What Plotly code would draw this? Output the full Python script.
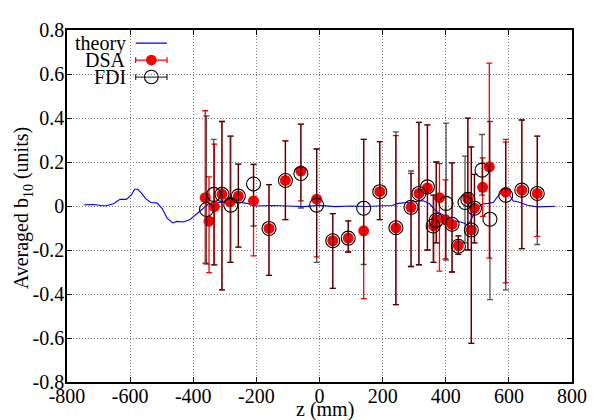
import plotly.graph_objects as go

# ---------------- data ----------------
z_theory = [-746, -715, -679, -653, -632, -612, -596, -586, -576, -565, -550, -534, -514, -498,
            -483, -465, -452, -431, -410, -390, -369, -353, -333, -302, -260, -229, -209, -150,
            -100, -50, 0, 50, 100, 150, 200, 230, 250, 277, 308, 329, 349, 370, 391, 416, 437,
            453, 468, 478, 494, 515, 535, 551, 566, 582, 597, 613, 633, 659, 690, 721, 747]
b_theory = [0.006, 0.007, 0.0, 0.01, 0.03, 0.03, 0.05, 0.076, 0.076, 0.06, 0.032, 0.016, 0.013,
            -0.013, -0.055, -0.077, -0.07, -0.073, -0.061, -0.036, -0.014, 0.008, 0.018, 0.015,
            0.018, 0.012, 0.0, 0.002, 0.0, -0.003, 0.003, -0.003, 0.0, -0.002, 0.001, 0.002,
            0.012, 0.016, 0.022, 0.024, 0.01, -0.025, -0.04, -0.069, -0.07, -0.075, -0.085,
            -0.07, -0.02, 0.009, 0.012, 0.017, 0.046, 0.068, 0.063, 0.024, 0.017, 0.003,
            -0.004, -0.004, -0.001]

z_dsa = [-362, -350, -333, -309, -283, -257, -209, -160, -108, -59, -9, 42, 91, 140, 191, 242,
         290, 315, 342, 362, 370, 380, 399, 420, 440, 470, 481, 491, 517, 538, 590, 641, 690]
b_dsa = [0.038, -0.069, -0.003, 0.053, 0.019, 0.045, 0.023, -0.102, 0.116, 0.159, 0.031, -0.158,
         -0.146, -0.113, 0.065, -0.099, -0.006, 0.057, 0.082, -0.09, -0.062, 0.038, -0.062,
         -0.084, -0.18, 0.034, -0.109, -0.01, 0.085, 0.178, 0.063, 0.072, 0.057]
dsa_hi = [0.433, 0.132, 0.281, 0.384, 0.318, 0.19, 0.19, 0.097, 0.296, 0.372, 0.259, -0.035,
          -0.068, 0.303, 0.293, 0.32, 0.148, 0.38, 0.369, 0.049, 0.2, 0.193, 0.119, 0.196,
          -0.136, 0.399, 0.269, 0.144, 0.219, 0.649, 0.29, 0.391, 0.318]
dsa_lo = [-0.26, -0.303, -0.268, -0.381, -0.256, -0.187, -0.227, -0.315, -0.062, 0.023, -0.231,
          -0.374, -0.209, -0.421, -0.062, -0.448, -0.275, -0.267, -0.2, -0.256, -0.168, -0.296,
          -0.24, -0.3, -0.22, -0.2, -0.624, -0.168, -0.047, -0.237, -0.349, -0.194, -0.138]

z_fdi = [-358, -335, -309, -281, -257, -209, -160, -108, -59, -9, 42, 91, 140, 191, 242, 290,
         315, 342, 360, 370, 401, 420, 440, 461, 470, 481, 491, 515, 540, 590, 641, 690]
b_fdi = [-0.016, 0.053, 0.053, 0.004, 0.045, 0.1, -0.102, 0.116, 0.148, 0.004, -0.158, -0.146,
         -0.01, 0.065, -0.099, -0.006, 0.057, 0.087, -0.091, -0.065, 0.012, -0.083, -0.183,
         0.016, 0.03, -0.109, -0.01, 0.163, -0.06, 0.049, 0.072, 0.057]
fdi_hi = [0.41, 0.303, 0.384, 0.318, 0.19, 0.188, 0.097, 0.296, 0.372, 0.259, -0.035, -0.068,
          0.303, 0.293, 0.337, 0.159, 0.38, 0.369, 0.049, 0.2, 0.377, 0.196, -0.136, 0.227,
          0.399, 0.269, 0.144, 0.325, 0.384, 0.303, 0.391, 0.318]
fdi_lo = [-0.264, -0.268, -0.381, -0.256, -0.187, -0.091, -0.315, -0.062, -0.009, -0.256,
          -0.374, -0.209, -0.266, -0.062, -0.448, -0.275, -0.267, -0.2, -0.256, -0.168, -0.246,
          -0.3, -0.22, -0.168, -0.2, -0.624, -0.168, 0.049, -0.426, -0.381, -0.194, -0.175]

x_ticks = [-800, -600, -400, -200, 0, 200, 400, 600, 800]
x_ticktext = ["-800", "-600", "-400", "-200", "0", "200", "400", "600", "800"]
y_ticks = [-0.8, -0.6, -0.4, -0.2, 0, 0.2, 0.4, 0.6, 0.8]
y_ticktext = ["-0.8", "-0.6", "-0.4", "-0.2", "0", "0.2", "0.4", "0.6", "0.8"]

# ---------------- layout geometry ----------------
# The page body has an 8px margin, so the figure is made 8px smaller and every
# target pixel position (measured in the 598x420 window) is shifted by 8px.
OFF = 8
W, H = 598 - OFF, 420 - OFF
LEFT, RIGHT, TOP, BOTTOM = 67, 582, 19, 382          # plot frame in window pixels
ML, MR, MT, MB = LEFT - OFF, W - (RIGHT - OFF), TOP - OFF, H - (BOTTOM - OFF)
PW, PH = W - ML - MR, H - MT - MB
FONT = "Liberation Serif"
FS = 20


def xp(px):
    return (px - OFF - ML) / PW


def yp(py):
    return (H - MB - (py - OFF)) / PH


def plus(v, h):
    return [a - b for a, b in zip(h, v)]


def minus(v, l):
    return [b - a for a, b in zip(l, v)]


fig = go.Figure()
fig.add_trace(go.Scatter(x=z_theory, y=b_theory, mode="lines",
                         line=dict(color="#0000ff", width=1.1), name="theory",
                         showlegend=False))
fig.add_trace(go.Scatter(
    x=z_dsa, y=b_dsa, mode="markers", name="DSA", showlegend=False,
    marker=dict(color="#ff0000", size=11, line=dict(width=0)),
    error_y=dict(type="data", symmetric=False, array=plus(b_dsa, dsa_hi),
                 arrayminus=minus(b_dsa, dsa_lo), color="#ff0000", thickness=1.3, width=3)))
fig.add_trace(go.Scatter(
    x=z_fdi, y=b_fdi, mode="markers", name="FDI", showlegend=False,
    marker=dict(symbol="circle-open", color="#000000", size=14, line=dict(width=1.1)),
    error_y=dict(type="data", symmetric=False, array=plus(b_fdi, fdi_hi),
                 arrayminus=minus(b_fdi, fdi_lo), color="rgba(0,0,0,0.68)",
                 thickness=1.3, width=3)))

# ---------------- custom gnuplot-like key ----------------
shapes = []
annotations = []
key_rows = [("theory", 33), ("DSA", 50), ("FDI", 67.5)]
for label, cy in key_rows:
    annotations.append(dict(text=label, x=xp(129), y=yp(cy), xref="paper", yref="paper",
                            xanchor="right", yanchor="middle", showarrow=False,
                            font=dict(family=FONT, size=FS, color="black")))
x_a, x_b, x_c = 137, 169, 153
shapes.append(dict(type="line", xref="paper", yref="paper", x0=xp(x_a), x1=xp(x_b),
                   y0=yp(32.5), y1=yp(32.5), line=dict(color="#0000ff", width=1.3)))
for cy, col in [(50, "#ff0000"), (67.5, "rgba(0,0,0,0.75)")]:
    shapes.append(dict(type="line", xref="paper", yref="paper", x0=xp(x_a), x1=xp(x_b),
                       y0=yp(cy), y1=yp(cy), line=dict(color=col, width=1.3)))
    for xx in (x_a, x_b):
        shapes.append(dict(type="line", xref="paper", yref="paper", x0=xp(xx), x1=xp(xx),
                           y0=yp(cy - 3), y1=yp(cy + 3), line=dict(color=col, width=1.3)))
r = 5.5
shapes.append(dict(type="circle", xref="paper", yref="paper", x0=xp(x_c - r), x1=xp(x_c + r),
                   y0=yp(50 + r), y1=yp(50 - r), fillcolor="#ff0000",
                   line=dict(width=0)))
r = 7
shapes.append(dict(type="circle", xref="paper", yref="paper", x0=xp(x_c - r), x1=xp(x_c + r),
                   y0=yp(67.5 + r), y1=yp(67.5 - r), fillcolor="rgba(0,0,0,0)",
                   line=dict(color="black", width=1.1)))

# axis titles as annotations for exact placement
annotations.append(dict(text="Averaged b<sub>10</sub> (units)", x=xp(22), y=yp(203),
                        xref="paper", yref="paper", textangle=-90, showarrow=False,
                        xanchor="center", yanchor="middle",
                        font=dict(family=FONT, size=FS, color="black")))
annotations.append(dict(text="z (mm)", x=xp(330), y=yp(410), xref="paper", yref="paper",
                        showarrow=False, xanchor="center", yanchor="middle",
                        font=dict(family=FONT, size=FS, color="black")))

axis_common = dict(showline=True, linecolor="black", linewidth=1.5, mirror="allticks",
                   ticks="inside", ticklen=5, tickwidth=1, tickcolor="black",
                   showgrid=True, gridcolor="#808080", griddash="1px,2px", gridwidth=1,
                   zeroline=False, tickfont=dict(family=FONT, size=FS, color="black"))

fig.update_layout(
    width=W, height=H, margin=dict(l=ML, r=MR, t=MT, b=MB, pad=0),
    paper_bgcolor="white", plot_bgcolor="white", showlegend=False,
    xaxis=dict(range=[-800, 800], tickvals=x_ticks, ticktext=x_ticktext,
               ticklabelstandoff=-5, **axis_common),
    yaxis=dict(range=[-0.8, 0.8], tickvals=y_ticks, ticktext=y_ticktext,
               ticklabelstandoff=-3, **axis_common),
    shapes=shapes, annotations=annotations,
)

fig.write_html("out.html")
